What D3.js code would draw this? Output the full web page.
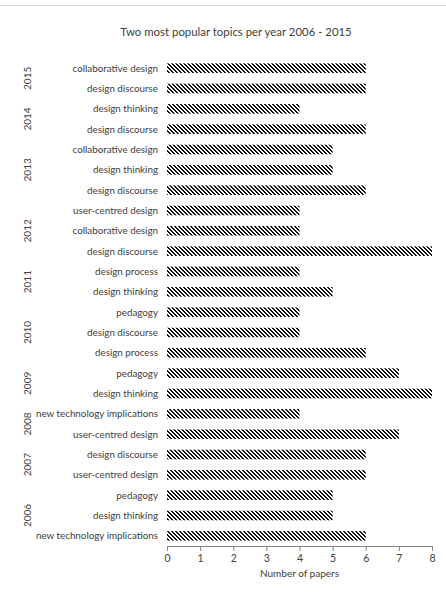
<!DOCTYPE html>
<html>
<head>
<meta charset="utf-8">
<script src="https://cdn.jsdelivr.net/npm/d3@7"></script>
<style>
  body { margin: 0; background: #fff; }
  text { font-family: Lato, "Open Sans", sans-serif; }
</style>
</head>
<body>
<svg id="chart"></svg>
<script>
// rows listed top to bottom as they appear in the chart
const rowYears = ["2015", "2015", "2014", "2014", "2013", "2013", "2013",
    "2012", "2012", "2012", "2011", "2011", "2010", "2010", "2010",
    "2009", "2009", "2008", "2008", "2007", "2007", "2006", "2006", "2006"];
const topics = ["collaborative design", "design discourse", "design thinking", "design discourse",
    "collaborative design", "design thinking", "design discourse",
    "user-centred design", "collaborative design", "design discourse",
    "design process", "design thinking",
    "pedagogy", "design discourse", "design process",
    "pedagogy", "design thinking",
    "new technology implications", "user-centred design",
    "design discourse", "user-centred design",
    "pedagogy", "design thinking", "new technology implications"];
const papers = [6, 6, 4, 6, 5, 5, 6, 4, 4, 8, 4, 5, 4, 4, 6, 7, 8, 4, 7, 6, 6, 5, 5, 6];
const xTicks = [0, 1, 2, 3, 4, 5, 6, 7, 8];

const width = 446, height = 592;
const margin = { top: 58, right: 14, bottom: 46, left: 167 };

const svg = d3.select("#chart")
    .attr("width", width)
    .attr("height", height);

// faint chart border at the top
svg.append("line")
    .attr("x1", 0).attr("x2", width)
    .attr("y1", 5.5).attr("y2", 5.5)
    .attr("stroke", "#d9d9d9");

// downward diagonal hatch, pixel pattern
const defs = svg.append("defs");
const hatch = defs.append("pattern")
    .attr("id", "hatch")
    .attr("patternUnits", "userSpaceOnUse")
    .attr("width", 4)
    .attr("height", 4);
hatch.append("rect").attr("width", 4).attr("height", 4).attr("fill", "#fff");
[[0, 0], [1, 0], [1, 1], [2, 1], [2, 2], [3, 2], [3, 3], [0, 3]].forEach(p => {
    hatch.append("rect")
        .attr("x", p[0]).attr("y", p[1])
        .attr("width", 1).attr("height", 1)
        .attr("fill", "#111")
        .attr("shape-rendering", "crispEdges");
});

const rows = topics.map((t, i) => ({ i: i, topic: t, year: rowYears[i], value: papers[i] }));

const x = d3.scaleLinear()
    .domain([0, 8])
    .range([margin.left, width - margin.right]);

const y = d3.scaleBand()
    .domain(rows.map(d => d.i))
    .range([margin.top, height - margin.bottom])
    .paddingInner(0.53)
    .paddingOuter(0.265);

// bars
svg.append("g")
    .selectAll("rect")
    .data(rows)
    .join("rect")
    .attr("x", x(0))
    .attr("y", d => y(d.i))
    .attr("width", d => x(d.value) - x(0))
    .attr("height", y.bandwidth())
    .attr("fill", "url(#hatch)");

// category labels
svg.append("g")
    .selectAll("text")
    .data(rows)
    .join("text")
    .attr("x", margin.left - 9)
    .attr("y", d => y(d.i) + y.bandwidth() / 2)
    .attr("dy", "0.35em")
    .attr("text-anchor", "end")
    .attr("font-size", 9.8)
    .attr("fill", "#404040")
    .text(d => d.topic);

// year group labels
const yearGroups = d3.groups(rows, d => d.year);
svg.append("g")
    .selectAll("text")
    .data(yearGroups)
    .join("text")
    .attr("transform", g => {
        const cy = d3.mean(g[1], d => y(d.i) + y.bandwidth() / 2);
        return `translate(27, ${cy}) rotate(-90)`;
    })
    .attr("dy", "0.35em")
    .attr("text-anchor", "middle")
    .attr("font-size", 10)
    .attr("fill", "#404040")
    .text(g => g[0]);

// x axis
const xAxis = svg.append("g")
    .attr("transform", `translate(0, ${height - margin.bottom})`)
    .call(d3.axisBottom(x).tickValues(xTicks).tickSize(5).tickSizeOuter(0).tickPadding(4));
xAxis.select(".domain").attr("stroke", "#868686");
xAxis.selectAll(".tick line").attr("stroke", "#868686");
xAxis.selectAll(".tick text")
    .attr("font-size", 10.5)
    .attr("font-family", "Lato, sans-serif")
    .attr("fill", "#404040");

svg.append("text")
    .attr("x", (x(0) + x(8)) / 2)
    .attr("y", 577)
    .attr("text-anchor", "middle")
    .attr("font-size", 10)
    .attr("fill", "#404040")
    .text("Number of papers");

svg.append("text")
    .attr("x", 236)
    .attr("y", 36)
    .attr("text-anchor", "middle")
    .attr("font-size", 11.4)
    .attr("fill", "#404040")
    .text("Two most popular topics per year 2006 - 2015");
</script>
</body>
</html>
